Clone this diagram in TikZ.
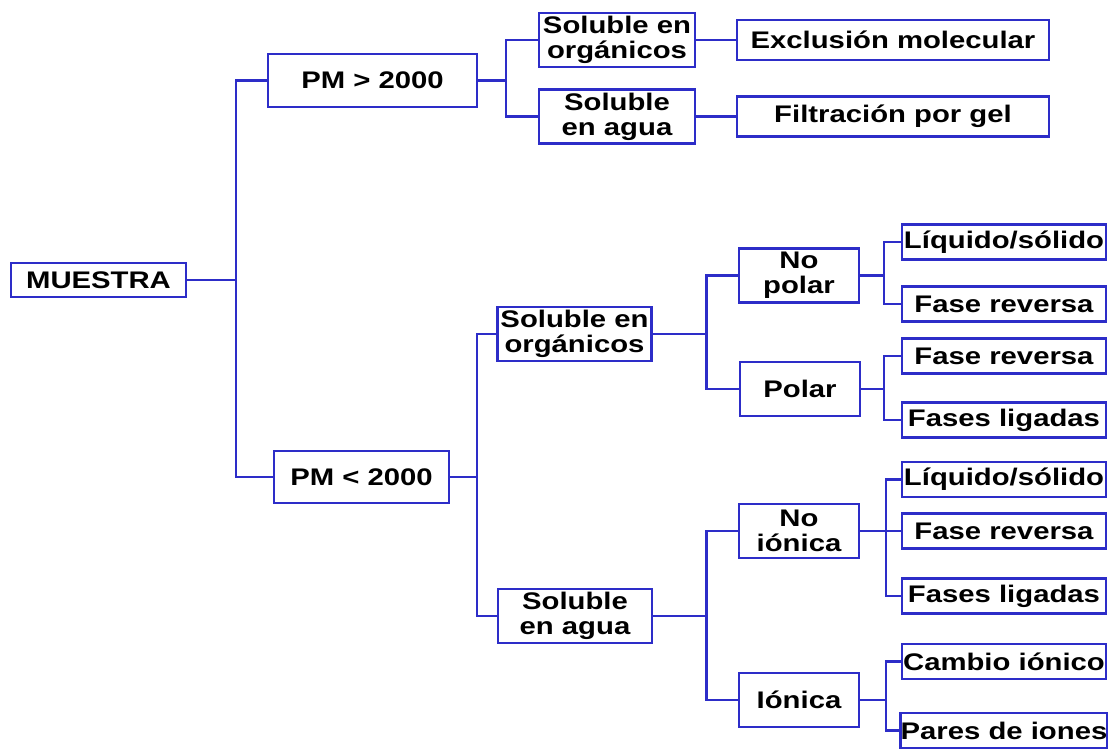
\documentclass[tikz,border=0pt]{standalone}
\usepackage{fontspec}
\setmainfont{Liberation Sans}[FakeStretch=1.22]
\usepackage{tikz}
\usetikzlibrary{positioning}
\definecolor{azul}{RGB}{45,45,200}
\tikzset{
  caja/.style={draw=azul, line width=1.9pt, fill=white, inner sep=0pt, align=center,
    font=\bfseries\fontsize{18}{18.75}\selectfont},
  rama/.style={draw=azul, minimum width=117pt, minimum height=40.5pt},
  tipo/.style={minimum width=90pt, minimum height=40.5pt},
  hoja/.style={minimum width=153pt, minimum height=26.25pt},
  linea/.style={draw=azul, line width=1.9pt}
}
\begin{document}
\begin{tikzpicture}[x=0.75pt,y=0.75pt,yscale=-1,xscale=1]
        \useasboundingbox (0,0) rectangle (1108,749);

        % Text Node
        \node [caja, minimum width=131.25pt, minimum height=25.5pt] (muestra) at (98.5,280) {MUESTRA};
        % Text Node
        \node [caja, minimum width=156.75pt, minimum height=39.75pt] (pmA) at (372.5,80.5) {PM > 2000};
        \node [caja, minimum width=131.25pt, minimum height=39pt] (pmB) at (361.5,477) {PM < 2000};

        % Text Node
        \node [caja, rama] (orgA) at (617,40) {Soluble en\\orgánicos};
        \node [caja, rama] (aguaA) at (617,116.5) {Soluble\\en agua};
        \node [caja, rama, minimum width=115.5pt] (orgB) at (574.5,334) {Soluble en\\orgánicos};
        \node [caja, rama, minimum width=115.5pt] (aguaB) at (575,616) {Soluble\\en agua};

        % Text Node
        \node [caja, minimum width=234pt, minimum height=30pt] (exclusion) at (893,40) {Exclusión molecular};
        \node [caja, minimum width=234pt, minimum height=30pt] (filtracion) at (893,116.5) {Filtración por gel};

        % Text Node
        \node [caja, tipo] (nopolar) at (799,275.5) {No\\polar};
        \node [caja, tipo] (polar) at (800,389) {Polar};
        \node [caja, tipo] (noionica) at (799,531) {No\\iónica};
        \node [caja, tipo] (ionica) at (799,700) {Iónica};

        % Text Node
        \node [caja, hoja] (liqA) at (1004,242) {Líquido/sólido};
        \node [caja, hoja] (revA) at (1004,304) {Fase reversa};
        \node [caja, hoja] (revB) at (1004,356) {Fase reversa};
        \node [caja, hoja] (ligA) at (1004,420) {Fases ligadas};
        \node [caja, hoja] (liqB) at (1004,479.5) {Líquido/sólido};
        \node [caja, hoja] (revC) at (1004,531) {Fase reversa};
        \node [caja, hoja] (ligB) at (1004,596) {Fases ligadas};
        \node [caja, hoja] (cambio) at (1004,661.5) {Cambio iónico};
        \node [caja, hoja] (pares) at (1004,730.5) {Pares de iones};

        %Junctions
        \coordinate (j1) at (236,0 |- muestra.east);
        \coordinate (j2) at (506,0 |- pmA.east);
        \coordinate (j3) at (477,0 |- pmB.east);
        \coordinate (j4) at (706.5,0 |- orgB.east);
        \coordinate (j5) at (706.5,0 |- aguaB.east);
        \coordinate (j6) at (884,0 |- nopolar.east);
        \coordinate (j7) at (884,0 |- polar.east);
        \coordinate (j8) at (886,0 |- noionica.east);
        \coordinate (j9) at (886,0 |- ionica.east);

        %Straight Lines
        \draw [linea] (muestra.east) -- (j1);
        \draw [linea] (pmA.west) -| (j1) |- (pmB.west);
        \draw [linea] (pmA.east) -- (j2);
        \draw [linea] (orgA.west) -| (j2) |- (aguaA.west);
        \draw [linea] (orgA.east) -- (exclusion.west);
        \draw [linea] (aguaA.east) -- (filtracion.west);
        \draw [linea] (pmB.east) -- (j3);
        \draw [linea] (orgB.west) -| (j3) |- (aguaB.west);
        %Straight Lines
        \draw [linea] (orgB.east) -- (j4);
        \draw [linea] (nopolar.west) -| (j4) |- (polar.west);
        \draw [linea] (aguaB.east) -- (j5);
        \draw [linea] (noionica.west) -| (j5) |- (ionica.west);
        %Straight Lines
        \draw [linea] (nopolar.east) -- (j6);
        \draw [linea] (liqA.west) -| (j6) |- (revA.west);
        \draw [linea] (polar.east) -- (j7);
        \draw [linea] (revB.west) -| (j7) |- (ligA.west);
        \draw [linea] (noionica.east) -- (revC.west);
        \draw [linea] (liqB.west) -| (j8) |- (ligB.west);
        \draw [linea] (ionica.east) -- (j9);
        \draw [linea] (cambio.west) -| (j9) |- (pares.west);

\end{tikzpicture}
\end{document}
